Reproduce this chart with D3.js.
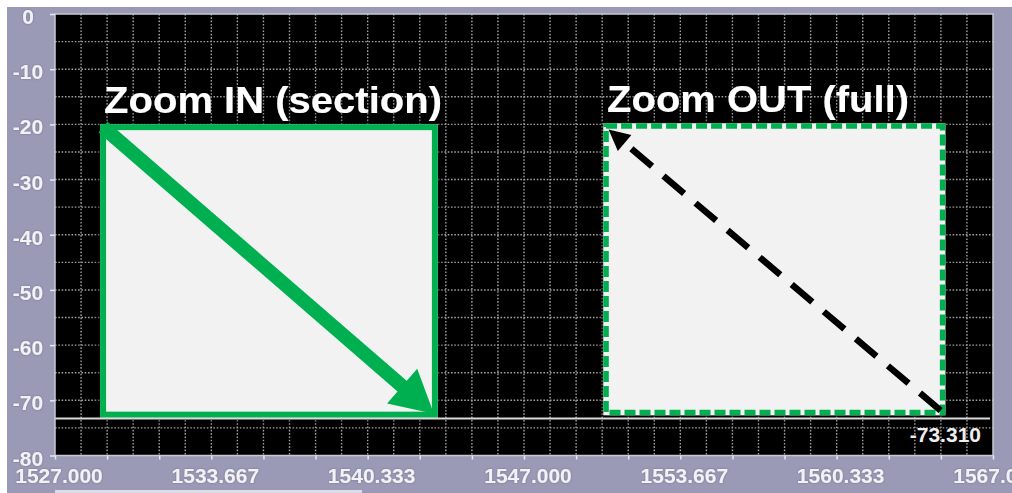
<!DOCTYPE html>
<html><head><meta charset="utf-8">
<script src="https://cdn.jsdelivr.net/npm/d3@7/dist/d3.min.js"></script>
<style>
html,body{margin:0;padding:0;background:#fff;}
svg{display:block;}
text{font-family:"Liberation Sans",Arial,sans-serif;}
</style></head><body>
<svg id="c" width="1012" height="493"></svg>
<script>
// ---- data ----
const xDomain = [1527, 1567];
const yDomain = [0, -80];
const xTickValues = [1527, 1533.667, 1540.333, 1547, 1553.667, 1560.333, 1567];
const xTickLabels = ["1527.000", "1533.667", "1540.333", "1547.000", "1553.667", "1560.333", "1567.000"];
const yTickValues = [0, -10, -20, -30, -40, -50, -60, -70, -80];
const yTickLabels = ["0", "-10", "-20", "-30", "-40", "-50", "-60", "-70", "-80"];
const markerValue = -73.310;
const boxLabels = ["Zoom IN (section)", "Zoom OUT (full)"];
const boxX0 = [1529.05, 1550.5];
const boxX1 = [1543.2, 1564.85];
const boxTop = [-20.5, -20.3];
const boxBottom = [-72.6, -72.2];

// ---- layout ----
const W = 1012, H = 493;
const plot = {l: 55, r: 993, t: 14, b: 455.5};
const svg = d3.select("#c");
const x = d3.scaleLinear().domain(xDomain).range([plot.l, plot.r]);
const y = d3.scaleLinear().domain(yDomain).range([plot.t, plot.b]);

const defs = svg.append("defs");
defs.append("clipPath").attr("id", "pc").append("rect")
  .attr("x", plot.l).attr("y", plot.t).attr("width", plot.r - plot.l).attr("height", plot.b - plot.t);
const f1 = defs.append("filter").attr("id", "glow").attr("x", "-20%").attr("y", "-20%").attr("width", "140%").attr("height", "140%");
f1.append("feDropShadow").attr("dx", 0).attr("dy", 0).attr("stdDeviation", 4).attr("flood-color", "#000").attr("flood-opacity", 1);
const f2 = defs.append("filter").attr("id", "tglow").attr("x", "-10%").attr("y", "-30%").attr("width", "120%").attr("height", "160%");
f2.append("feDropShadow").attr("dx", 0).attr("dy", 0).attr("stdDeviation", 2).attr("flood-color", "#000").attr("flood-opacity", 0.9);
const f3 = defs.append("filter").attr("id", "lglow").attr("x", "-10%").attr("y", "-30%").attr("width", "120%").attr("height", "160%");
f3.append("feDropShadow").attr("dx", 0).attr("dy", 0).attr("stdDeviation", 1).attr("flood-color", "#55556a").attr("flood-opacity", 0.6);

// outer panel
svg.append("rect").attr("x", 7).attr("y", 7).attr("width", W - 7).attr("height", H - 7).attr("fill", "#9a9ab7");
svg.append("rect").attr("x", plot.l).attr("y", 490).attr("width", 307).attr("height", 3).attr("fill", "#dcdce6");

// plot background
svg.append("rect").attr("x", plot.l).attr("y", plot.t).attr("width", plot.r - plot.l).attr("height", plot.b - plot.t).attr("fill", "#000");

const pg = svg.append("g").attr("clip-path", "url(#pc)");

// grid
const vGrid = d3.range(1, 36).map(i => xDomain[0] + i * (xDomain[1] - xDomain[0]) / 36);
const hGrid = d3.range(1, 16).map(i => -5 * i);
pg.selectAll(".vg").data(vGrid).join("line")
  .attr("x1", d => x(d)).attr("x2", d => x(d)).attr("y1", plot.t).attr("y2", plot.b)
  .attr("stroke", "#a0a0a0").attr("stroke-width", 1.4).attr("stroke-dasharray", "1.6 1.7");
pg.selectAll(".hg").data(hGrid).join("line")
  .attr("y1", d => y(d)).attr("y2", d => y(d)).attr("x1", plot.l).attr("x2", plot.r)
  .attr("stroke", "#a0a0a0").attr("stroke-width", 1.4).attr("stroke-dasharray", "1.6 1.7");

// boxes
const boxes = boxLabels.map((label, i) => ({label, x0: boxX0[i], x1: boxX1[i], t: boxTop[i], b: boxBottom[i], i}));
const green = "#00b050";
boxes.forEach(d => {
  const bx = x(d.x0), bw = x(d.x1) - x(d.x0), by = y(d.t), bh = y(d.b) - y(d.t);
  const sw = d.i === 0 ? 6 : 5.5;
  pg.append("rect").attr("x", bx - sw / 2).attr("y", by - sw / 2).attr("width", bw + sw).attr("height", bh + sw)
    .attr("fill", "#f2f2f2").attr("filter", "url(#glow)");
  pg.append("rect").attr("x", bx).attr("y", by).attr("width", bw).attr("height", bh)
    .attr("fill", "none").attr("stroke", green).attr("stroke-width", sw)
    .attr("stroke-dasharray", d.i === 0 ? null : "11 4");
});

// marker line
pg.append("line").attr("x1", plot.l).attr("x2", 990).attr("y1", y(markerValue)).attr("y2", y(markerValue))
  .attr("stroke", "#dadada").attr("stroke-width", 2);

// arrows
function arrow(p0, p1, o) {
  const dx = p1[0] - p0[0], dy = p1[1] - p0[1], L = Math.hypot(dx, dy), ux = dx / L, uy = dy / L;
  const bx = p1[0] - ux * o.headLen, by = p1[1] - uy * o.headLen;
  pg.append("line").attr("x1", p0[0]).attr("y1", p0[1]).attr("x2", bx + ux * 3).attr("y2", by + uy * 3)
    .attr("stroke", o.color).attr("stroke-width", o.width).attr("stroke-dasharray", o.dash)
    .attr("stroke-linecap", "butt");
  const hw = o.headW / 2;
  pg.append("path").attr("d", d3.line()([p1, [bx - uy * hw, by + ux * hw], [bx + uy * hw, by - ux * hw]]) + "Z")
    .attr("fill", o.color);
}
const b0 = boxes[0], b1 = boxes[1];
arrow([x(b0.x0), y(b0.t)], [x(b0.x1) - 1, y(b0.b) - 1], {color: green, width: 14, headLen: 42, headW: 46, dash: null});
arrow([x(b1.x1) - 2, y(b1.b) - 2], [x(b1.x0) + 2.5, y(b1.t) + 3.5], {color: "#000", width: 6.5, headLen: 21, headW: 21, dash: "27 15"});

// titles
boxes.forEach(d => {
  svg.append("text").attr("x", x(d.x0) + 1).attr("y", y(d.t) - 14)
    .attr("font-size", 37).attr("font-weight", "bold").attr("fill", "#fff")
    .attr("textLength", d.i === 0 ? 338 : 302).attr("lengthAdjust", "spacingAndGlyphs")
    .attr("filter", "url(#tglow)").text(d.label);
});

// marker label
svg.append("text").attr("x", 981).attr("y", y(markerValue) + 23).attr("text-anchor", "end")
  .attr("font-size", 21).attr("font-weight", "bold").attr("fill", "#eeeeee").text(markerValue.toFixed(3));

// plot border
svg.append("rect").attr("x", plot.l).attr("y", plot.t).attr("width", plot.r - plot.l).attr("height", plot.b - plot.t)
  .attr("fill", "none").attr("stroke", "#c8c8d2").attr("stroke-width", 1.5);

// x axis minor ticks
const xMinor = d3.range(0, 19).map(i => xDomain[0] + i * (xDomain[1] - xDomain[0]) / 18);
const xa = svg.append("g").attr("transform", `translate(0,${plot.b})`)
  .call(d3.axisBottom(x).tickValues(xMinor).tickSize(4).tickFormat(""));
xa.select(".domain").remove();
xa.selectAll("line").attr("stroke", "#e8e8ee").attr("stroke-width", 1.5);

// x labels
svg.append("g").attr("filter", "url(#lglow)").selectAll("text").data(xTickValues).join("text")
  .attr("x", d => x(d) + 4).attr("y", 483).attr("text-anchor", "middle")
  .attr("font-size", 21).attr("font-weight", "bold").attr("fill", "#f2f2f6")
  .text((d, i) => xTickLabels[i]);

// y axis ticks
const ya = svg.append("g").attr("transform", `translate(${plot.l},0)`)
  .call(d3.axisLeft(y).tickValues(yTickValues).tickSize(5).tickFormat(""));
ya.select(".domain").remove();
ya.selectAll("line").attr("stroke", "#e8e8ee").attr("stroke-width", 1.5);

// y labels
svg.append("g").attr("filter", "url(#lglow)").selectAll("text").data(yTickValues).join("text")
  .attr("x", 28).attr("y", d => y(d) + 10).attr("text-anchor", "middle")
  .attr("font-size", 21).attr("font-weight", "bold").attr("fill", "#f2f2f6")
  .text((d, i) => yTickLabels[i]);
</script>
</body></html>
